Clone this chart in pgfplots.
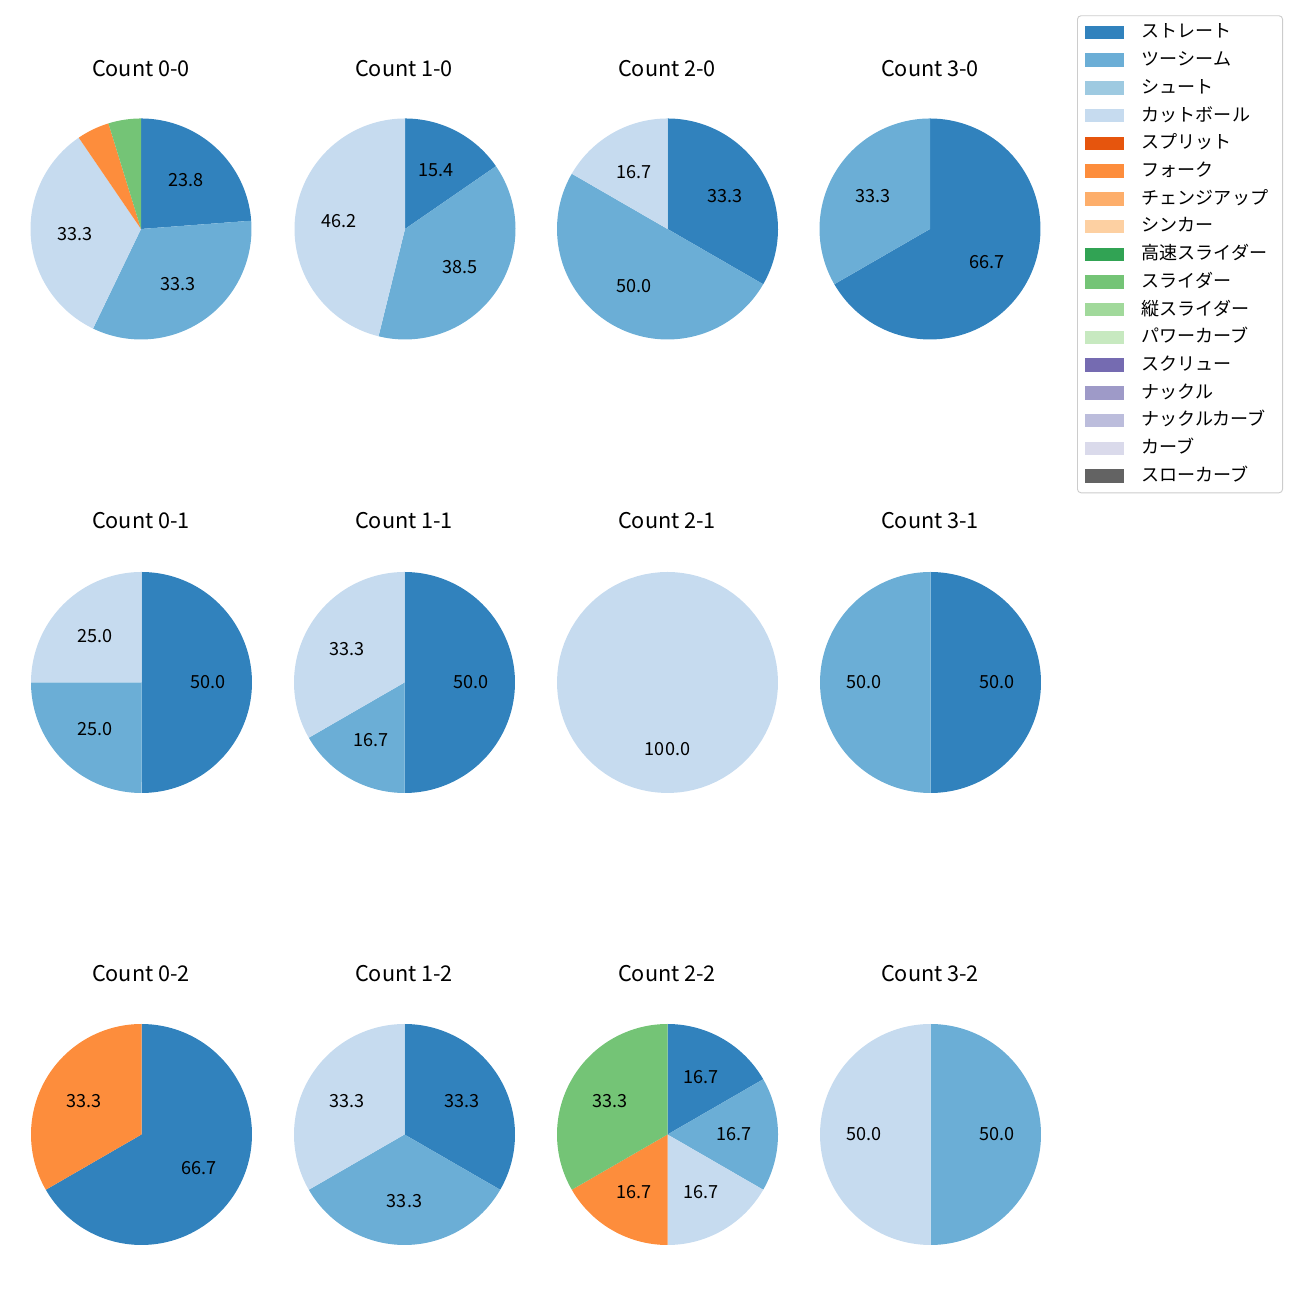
\documentclass[border=0pt]{standalone}
\usepackage{pgfplots}
\pgfplotsset{compat=1.18}
\usepackage{fontspec}
\setmainfont{Noto Sans CJK JP}
\definecolor{c01}{HTML}{3182BD}
\definecolor{c02}{HTML}{6BAED6}
\definecolor{c03}{HTML}{9ECAE1}
\definecolor{c04}{HTML}{C6DBEF}
\definecolor{c05}{HTML}{E6550D}
\definecolor{c06}{HTML}{FD8D3C}
\definecolor{c07}{HTML}{FDAE6B}
\definecolor{c08}{HTML}{FDD0A2}
\definecolor{c09}{HTML}{31A354}
\definecolor{c10}{HTML}{74C476}
\definecolor{c11}{HTML}{A1D99B}
\definecolor{c12}{HTML}{C7E9C0}
\definecolor{c13}{HTML}{756BB1}
\definecolor{c14}{HTML}{9E9AC8}
\definecolor{c15}{HTML}{BCBDDC}
\definecolor{c16}{HTML}{DADAEB}
\definecolor{c17}{HTML}{636363}
\def\s{0.5538pt}
\newcommand{\lab}{\fontsize{10}{12}\selectfont}
\newcommand{\ttl}{\fontsize{12}{14}\selectfont}
% slice: start %, end %, colour (clockwise from top)
\newcommand{\slice}[3]{\addplot[fill=#3, draw=none, domain=90-3.6*#2:90-3.6*#1, samples=90] ({cos(x)},{sin(x)}) -- (axis cs:0,0) -- cycle;}
\newcommand{\plab}[3]{\node[font=\lab, inner sep=0pt] at (axis cs:{0.6*cos(90-1.8*(#1+#2))},{0.6*sin(90-1.8*(#1+#2))}) {#3};}
\pgfplotsset{pie/.style={hide axis, scale only axis, width={221*\s}, height={221*\s},
  xmin=-1, xmax=1, ymin=-1, ymax=1, anchor=center, clip=false}}
\begin{document}
\begin{tikzpicture}
\useasboundingbox (0,0) rectangle ({1300*\s},{1300*\s});
% ---- titles
\foreach \cx/\cy/\t in {141/69/Count 0-0, 404/69/Count 1-0, 667/69/Count 2-0, 930/69/Count 3-0,
                        141/521/Count 0-1, 404/521/Count 1-1, 667/521/Count 2-1, 930/521/Count 3-1,
                        141/974/Count 0-2, 404/974/Count 1-2, 667/974/Count 2-2, 930/974/Count 3-2}
  \node[font=\ttl, inner sep=0pt] at ({\cx*\s},{(1300-\cy)*\s}) {\t};
% ---- row 1
\begin{axis}[pie, at={({141*\s},{(1300-229)*\s})}]
\slice{0}{23.8095}{c01}\slice{23.8095}{57.1429}{c02}\slice{57.1429}{90.4762}{c04}
\slice{90.4762}{95.2381}{c06}\slice{95.2381}{100}{c10}
\plab{0}{23.8095}{23.8}\plab{23.8095}{57.1429}{33.3}\plab{57.1429}{90.4762}{33.3}
\end{axis}
\begin{axis}[pie, at={({405*\s},{(1300-229)*\s})}]
\slice{0}{15.3846}{c01}\slice{15.3846}{53.8462}{c02}\slice{53.8462}{100}{c04}
\plab{0}{15.3846}{15.4}\plab{15.3846}{53.8462}{38.5}\plab{53.8462}{100}{46.2}
\end{axis}
\begin{axis}[pie, at={({667.5*\s},{(1300-229)*\s})}]
\slice{0}{33.3333}{c01}\slice{33.3333}{83.3333}{c02}\slice{83.3333}{100}{c04}
\plab{0}{33.3333}{33.3}\plab{33.3333}{83.3333}{50.0}\plab{83.3333}{100}{16.7}
\end{axis}
\begin{axis}[pie, at={({930*\s},{(1300-229)*\s})}]
\slice{0}{66.6667}{c01}\slice{66.6667}{100}{c02}
\plab{0}{66.6667}{66.7}\plab{66.6667}{100}{33.3}
\end{axis}
% ---- row 2
\begin{axis}[pie, at={({141.5*\s},{(1300-682.5)*\s})}]
\slice{0}{50}{c01}\slice{50}{75}{c02}\slice{75}{100}{c04}
\plab{0}{50}{50.0}\plab{50}{75}{25.0}\plab{75}{100}{25.0}
\end{axis}
\begin{axis}[pie, at={({404.5*\s},{(1300-682.5)*\s})}]
\slice{0}{50}{c01}\slice{50}{66.6667}{c02}\slice{66.6667}{100}{c04}
\plab{0}{50}{50.0}\plab{50}{66.6667}{16.7}\plab{66.6667}{100}{33.3}
\end{axis}
\begin{axis}[pie, at={({667.5*\s},{(1300-682.5)*\s})}]
\slice{0}{100}{c04}
\plab{0}{100}{100.0}
\end{axis}
\begin{axis}[pie, at={({930.5*\s},{(1300-682.5)*\s})}]
\slice{0}{50}{c01}\slice{50}{100}{c02}
\plab{0}{50}{50.0}\plab{50}{100}{50.0}
\end{axis}
% ---- row 3
\begin{axis}[pie, at={({141.5*\s},{(1300-1134.5)*\s})}]
\slice{0}{66.6667}{c01}\slice{66.6667}{100}{c06}
\plab{0}{66.6667}{66.7}\plab{66.6667}{100}{33.3}
\end{axis}
\begin{axis}[pie, at={({404.5*\s},{(1300-1134.5)*\s})}]
\slice{0}{33.3333}{c01}\slice{33.3333}{66.6667}{c02}\slice{66.6667}{100}{c04}
\plab{0}{33.3333}{33.3}\plab{33.3333}{66.6667}{33.3}\plab{66.6667}{100}{33.3}
\end{axis}
\begin{axis}[pie, at={({667.5*\s},{(1300-1134.5)*\s})}]
\slice{0}{16.6667}{c01}\slice{16.6667}{33.3333}{c02}\slice{33.3333}{50}{c04}
\slice{50}{66.6667}{c06}\slice{66.6667}{100}{c10}
\plab{0}{16.6667}{16.7}\plab{16.6667}{33.3333}{16.7}\plab{33.3333}{50}{16.7}
\plab{50}{66.6667}{16.7}\plab{66.6667}{100}{33.3}
\end{axis}
\begin{axis}[pie, at={({930.5*\s},{(1300-1134.5)*\s})}]
\slice{0}{50}{c02}\slice{50}{100}{c04}
\plab{0}{50}{50.0}\plab{50}{100}{50.0}
\end{axis}
% ---- legend
\begin{axis}[hide axis, scale only axis, width=10pt, height=10pt, xmin=0, xmax=1, ymin=0, ymax=1,
  at={({1077*\s},{(1300-15.3)*\s})}, anchor=north west,
  legend cell align=left,
  legend image code/.code={\fill[#1, draw=none, sharp corners] (0pt,-3.75pt) rectangle (21.6pt,3.75pt);},
  legend style={at={(0,1)}, anchor=north west, draw=black!20, line width=0.5pt, rounded corners=2pt,
    fill=white, font=\lab, inner xsep=4pt, inner ysep=4.8pt,
    /tikz/row sep=6.35pt, /tikz/column sep=10pt,
    nodes={inner sep=0pt, text height=7.5pt, text depth=1.5pt, anchor=west, text width=74pt, align=left}}]
\addlegendimage{fill=c01}\addlegendentry{ストレート}
\addlegendimage{fill=c02}\addlegendentry{ツーシーム}
\addlegendimage{fill=c03}\addlegendentry{シュート}
\addlegendimage{fill=c04}\addlegendentry{カットボール}
\addlegendimage{fill=c05}\addlegendentry{スプリット}
\addlegendimage{fill=c06}\addlegendentry{フォーク}
\addlegendimage{fill=c07}\addlegendentry{チェンジアップ}
\addlegendimage{fill=c08}\addlegendentry{シンカー}
\addlegendimage{fill=c09}\addlegendentry{高速スライダー}
\addlegendimage{fill=c10}\addlegendentry{スライダー}
\addlegendimage{fill=c11}\addlegendentry{縦スライダー}
\addlegendimage{fill=c12}\addlegendentry{パワーカーブ}
\addlegendimage{fill=c13}\addlegendentry{スクリュー}
\addlegendimage{fill=c14}\addlegendentry{ナックル}
\addlegendimage{fill=c15}\addlegendentry{ナックルカーブ}
\addlegendimage{fill=c16}\addlegendentry{カーブ}
\addlegendimage{fill=c17}\addlegendentry{スローカーブ}
\end{axis}
\end{tikzpicture}
\end{document}
